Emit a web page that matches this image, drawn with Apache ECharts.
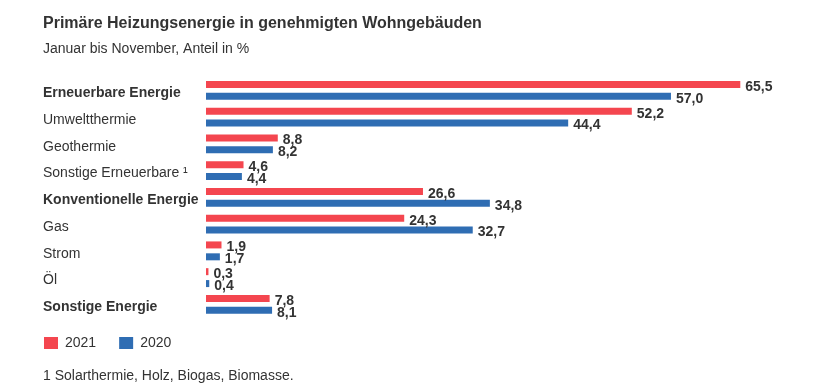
<!DOCTYPE html>
<html>
<head>
<meta charset="utf-8">
<script src="https://cdn.jsdelivr.net/npm/echarts@6/dist/echarts.min.js"></script>
<style>
html,body{margin:0;padding:0;background:#fff;}
#c{width:820px;height:390px;}
</style>
</head>
<body>
<div id="c"></div>
<script>
const categories = ["Erneuerbare Energie","Umweltthermie","Geothermie","Sonstige Erneuerbare \u00b9","Konventionelle Energie","Gas","Strom","Öl","Sonstige Energie"];
const boldCats = ["Erneuerbare Energie","Konventionelle Energie","Sonstige Energie"];
const values2021 = [65.5,52.2,8.8,4.6,26.6,24.3,1.9,0.3,7.8];
const values2020 = [57.0,44.4,8.2,4.4,34.8,32.7,1.7,0.4,8.1];
const seriesNames = ["2021","2020"];

const FONT = '"Liberation Sans", Arial, sans-serif';
const RED = '#f4464f';
const BLUE = '#2f6db3';
const fmt = p => p.value.toFixed(1).replace('.', ',');

const chart = echarts.init(document.getElementById('c'), null, {renderer:'canvas'});
const labelStyle = {
  show:true, position:'right', distance:5, formatter:fmt,
  fontFamily:FONT, fontSize:14, fontWeight:'bold', color:'#333', offset:[0,2.5]
};
chart.setOption({
  backgroundColor:'#fff',
  animation:false,
  title:[
    {text:'Primäre Heizungsenergie in genehmigten Wohngebäuden', left:38, top:11,
     textStyle:{fontFamily:FONT, fontSize:16, fontWeight:'bold', color:'#333'}},
    {text:'Januar bis November, Anteil in %', left:38, top:37,
     textStyle:{fontFamily:FONT, fontSize:14, fontWeight:'normal', color:'#333'}},
    {text:'1 Solarthermie, Holz, Biogas, Biomasse.', left:38, top:364,
     textStyle:{fontFamily:FONT, fontSize:14, fontWeight:'normal', color:'#333'}}
  ],
  legend:{
    data:seriesNames, left:39, top:331, icon:'rect', itemWidth:14, itemHeight:12, itemGap:23,
    textStyle:{fontFamily:FONT, fontSize:14, color:'#333', padding:[0,0,0,2]}
  },
  grid:{left:206, top:77, width:571, height:240.75, containLabel:false},
  xAxis:{type:'value', min:0, max:70, show:false},
  yAxis:{
    type:'category', data:categories, inverse:true,
    axisLine:{show:false}, axisTick:{show:false}, splitLine:{show:false},
    axisLabel:{
      align:'left', margin:163, fontFamily:FONT, fontSize:14, color:'#333',
      padding:[6,0,0,0],
      formatter: v => boldCats.includes(v) ? '{b|' + v + '}' : v,
      rich:{b:{fontFamily:FONT, fontSize:14, fontWeight:'bold', color:'#333'}}
    }
  },
  series:[
    {name:seriesNames[0], type:'bar', data:values2021, barWidth:7, barGap:'70%',
     itemStyle:{color:RED}, label:labelStyle},
    {name:seriesNames[1], type:'bar', data:values2020, barWidth:7, barGap:'70%',
     itemStyle:{color:BLUE}, label:labelStyle}
  ]
});
</script>
</body>
</html>
